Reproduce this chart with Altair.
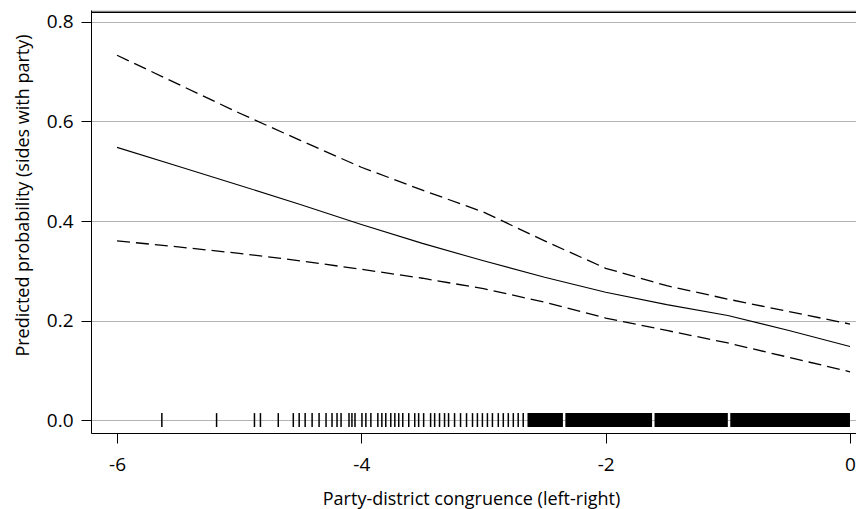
import altair as alt
import pandas as pd

# Predicted probability curve and 95% bounds
x_vals = [-6, -5.5, -5, -4.5, -4, -3.5, -3, -2.5, -2, -1.5, -1, -0.5, 0]
mean_vals = [0.548, 0.51, 0.472, 0.433, 0.393, 0.355, 0.32, 0.287, 0.257, 0.232, 0.21, 0.18, 0.148]
upper_vals = [0.733, 0.675, 0.617, 0.562, 0.508, 0.462, 0.418, 0.36, 0.305, 0.27, 0.243, 0.218, 0.193]
lower_vals = [0.36, 0.348, 0.335, 0.32, 0.303, 0.285, 0.264, 0.237, 0.205, 0.18, 0.155, 0.126, 0.097]

# Rug: sparse observations, then dense stretches drawn as blocks
rug_x = [-5.633, -5.185, -4.875, -4.826, -4.68, -4.557, -4.509, -4.46, -4.403, -4.346,
         -4.289, -4.24, -4.199, -4.166, -4.101, -4.077, -4.052, -3.995, -3.963, -3.922,
         -3.865, -3.832, -3.8, -3.759, -3.726, -3.694, -3.661, -3.612, -3.563, -3.531,
         -3.49, -3.433, -3.4, -3.36, -3.319, -3.286, -3.237, -3.188, -3.139, -3.09,
         -3.05, -3.009, -2.968, -2.927, -2.879, -2.838, -2.797, -2.756, -2.716, -2.675]
rug_block_start = [-2.64, -2.33, -1.60, -0.98]
rug_block_end = [-2.35, -1.62, -1.0, 0.0]

x_ticks = [-6, -4, -2, 0]
y_ticks = [0.0, 0.2, 0.4, 0.6, 0.8]

X_DOMAIN = [-6.213, 0.131]
Y_DOMAIN = [-0.026, 0.824]
FONT = "Open Sans"
W, H = 775, 423

lines_df = pd.DataFrame({"x": x_vals, "mean": mean_vals, "upper": upper_vals, "lower": lower_vals})
rug_df = pd.DataFrame({"x": rug_x, "y0": [-0.014] * len(rug_x), "y1": [0.014] * len(rug_x)})
block_df = pd.DataFrame({"x": rug_block_start, "x2": rug_block_end,
                         "y0": [-0.014] * 4, "y1": [0.014] * 4})

xscale = alt.Scale(domain=X_DOMAIN, nice=False, zero=False)
yscale = alt.Scale(domain=Y_DOMAIN, nice=False, zero=False)

x_axis = alt.Axis(values=x_ticks, title="Party-district congruence (left-right)",
                  labelExpr="'' + datum.value", grid=False, labelPadding=12, titlePadding=16,
                  titleX=380)
y_axis = alt.Axis(values=y_ticks, format=".1f", title="Predicted probability (sides with party)",
                  grid=True, gridColor="#b4b4b4", gridWidth=1, labelPadding=8, titlePadding=14,
                  titleY=185)

base = alt.Chart(lines_df)

mean_line = base.mark_line(color="black", strokeWidth=1.1).encode(
    x=alt.X("x:Q", scale=xscale, axis=x_axis),
    y=alt.Y("mean:Q", scale=yscale, axis=y_axis),
)
upper_line = base.mark_line(color="black", strokeWidth=1.3, strokeDash=[13, 6]).encode(
    x=alt.X("x:Q", scale=xscale), y=alt.Y("upper:Q", scale=yscale))
lower_line = base.mark_line(color="black", strokeWidth=1.3, strokeDash=[13, 6]).encode(
    x=alt.X("x:Q", scale=xscale), y=alt.Y("lower:Q", scale=yscale))

rug = alt.Chart(rug_df).mark_rule(color="black", strokeWidth=1.5).encode(
    x=alt.X("x:Q", scale=xscale), y=alt.Y("y0:Q", scale=yscale), y2="y1:Q")
blocks = alt.Chart(block_df).mark_rect(color="black").encode(
    x=alt.X("x:Q", scale=xscale), x2="x2:Q", y=alt.Y("y0:Q", scale=yscale), y2="y1:Q")

# top edge of the plot frame
top_frame = alt.Chart(lines_df.head(1)).mark_rule(color="black", strokeWidth=1.4).encode(
    x=alt.value(0), x2=alt.value(W), y=alt.value(2.2))

chart = alt.layer(mean_line, upper_line, lower_line, rug, blocks, top_frame).properties(
    width=W, height=H,
    autosize=alt.AutoSizeParams(type="none"),
    padding={"left": 83, "top": 2, "right": -10, "bottom": 78},
).configure_view(stroke="black", strokeWidth=1).configure(background="white").configure_axis(
    labelFont=FONT, titleFont=FONT, labelFontSize=19, titleFontSize=18,
    labelColor="black", titleColor="black", titleFontWeight="normal",
    domainColor="black", domainWidth=1, tickColor="black", tickSize=10, tickWidth=1,
)

chart.save("out.html", embed_options={"renderer": "svg", "actions": False})
